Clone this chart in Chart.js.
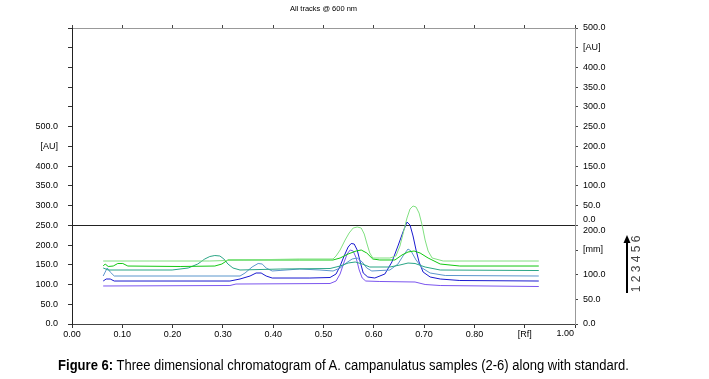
<!DOCTYPE html>
<html>
<head>
<meta charset="utf-8">
<script src="https://cdn.jsdelivr.net/npm/chart.js@4/dist/chart.umd.min.js"></script>
<style>
  html, body { margin: 0; padding: 0; background: #fff; }
  #wrap { position: relative; width: 709px; height: 379px; }
  #chart { position: absolute; left: 0; top: 0; }
  #caption {
    position: absolute; left: 0; top: 357px; width: 687px;
    text-align: center; color: #000; white-space: nowrap;
    font: 14px "Liberation Sans", Arial, sans-serif;
    transform: scaleX(0.93); transform-origin: 343px 0;
  }
</style>
</head>
<body>
<div id="wrap">
  <canvas id="chart" width="709" height="379"></canvas>
  <div id="caption"><b>Figure 6:</b> Three dimensional chromatogram of A. campanulatus samples (2-6) along with standard.</div>
</div>
<script>
// tick values / labels
const xTickValues = [0, 0.1, 0.2, 0.3, 0.4, 0.5, 0.6, 0.7, 0.8, 0.9, 1.0];
const xTickLabels = ["0.00", "0.10", "0.20", "0.30", "0.40", "0.50", "0.60", "0.70", "0.80", "[Rf]", "1.00"];
const auTickValues = [0, 50, 100, 150, 200, 250, 300, 350, 400, 450, 500, 550, 600, 650, 700, 750];
const auTickLabels = ["0.0", "50.0", "100.0", "150.0", "200.0", "250.0", "300.0", "350.0", "400.0", "[AU]", "500.0", "", "", "", "", ""];
// right side: lower part is the track axis in mm, upper part the offset AU axis
const rightTickValues = [-250, -187.5, -125, -62.5, 0, 50, 100, 150, 200, 250, 300, 350, 400, 450, 500];
const rightTickLabels = ["0.0", "50.0", "100.0", "[mm]", ["0.0", "200.0"], "50.0", "100.0", "150.0", "200.0", "250.0", "300.0", "350.0", "400.0", "[AU]", "500.0"];
const trackNumbers = "1 2 3 4 5 6";

// tracks as drawn in the 3D view (Rf, AU on left axis)
const track1Rf = [0.062, 0.314, 0.326, 0.513, 0.525, 0.533, 0.541, 0.547, 0.553, 0.559, 0.565, 0.571, 0.577, 0.584, 0.612, 0.682, 0.702, 0.732, 0.928];
const track1Au = [96.3, 97.5, 101.3, 102.6, 108.9, 126.7, 157.1, 177.4, 187.5, 185.0, 167.2, 136.8, 116.5, 108.9, 107.7, 106.4, 100.1, 97.5, 95.0];

const track2Rf = [0.062, 0.068, 0.076, 0.084, 0.314, 0.334, 0.354, 0.366, 0.376, 0.386, 0.398, 0.473, 0.513, 0.525, 0.533, 0.541, 0.549, 0.555, 0.561, 0.567, 0.573, 0.579, 0.588, 0.602, 0.622, 0.636, 0.648, 0.658, 0.666, 0.672, 0.678, 0.684, 0.690, 0.698, 0.712, 0.732, 0.771, 0.928];
const track2Au = [108.9, 114.0, 114.0, 108.9, 108.9, 114.0, 121.6, 129.2, 129.2, 121.6, 116.5, 116.5, 117.8, 126.7, 146.9, 172.3, 195.1, 204.0, 202.7, 187.5, 157.1, 129.2, 119.1, 116.5, 126.7, 157.1, 197.6, 233.1, 258.4, 250.8, 223.0, 187.5, 157.1, 131.7, 119.1, 114.0, 110.2, 108.9];

const track3Rf = [0.062, 0.066, 0.070, 0.076, 0.084, 0.334, 0.344, 0.358, 0.370, 0.378, 0.386, 0.398, 0.453, 0.493, 0.519, 0.533, 0.545, 0.557, 0.567, 0.577, 0.586, 0.596, 0.632, 0.648, 0.658, 0.668, 0.674, 0.684, 0.696, 0.712, 0.742, 0.928];
const track3Au = [121.6, 131.7, 141.9, 131.7, 121.6, 121.6, 129.2, 144.4, 153.3, 152.0, 141.9, 134.3, 139.3, 136.8, 134.3, 141.9, 154.5, 164.7, 167.2, 157.1, 141.9, 134.3, 136.8, 152.0, 172.3, 190.0, 185.0, 162.2, 141.9, 129.2, 122.9, 121.6];

const track4Rf = [0.062, 0.072, 0.199, 0.231, 0.250, 0.264, 0.274, 0.284, 0.294, 0.302, 0.310, 0.320, 0.334, 0.414, 0.513, 0.533, 0.549, 0.563, 0.577, 0.592, 0.632, 0.652, 0.668, 0.682, 0.702, 0.732, 0.928];
const track4Au = [141.9, 136.8, 136.8, 141.9, 152.0, 164.7, 171.0, 173.5, 172.3, 164.7, 152.0, 141.9, 136.8, 139.3, 140.6, 146.9, 154.5, 157.1, 152.0, 144.4, 144.4, 149.5, 154.5, 153.3, 144.4, 136.8, 135.5];

const track5Rf = [0.062, 0.066, 0.072, 0.082, 0.091, 0.101, 0.111, 0.215, 0.284, 0.298, 0.310, 0.453, 0.519, 0.533, 0.549, 0.565, 0.575, 0.586, 0.598, 0.612, 0.642, 0.656, 0.668, 0.680, 0.692, 0.708, 0.732, 0.771, 0.928];
const track5Au = [146.9, 152.0, 145.7, 146.9, 153.3, 153.3, 146.9, 145.7, 146.9, 152.0, 162.2, 162.2, 162.2, 167.2, 177.4, 185.0, 187.5, 179.9, 164.7, 162.2, 162.2, 174.8, 182.4, 185.0, 179.9, 167.2, 152.0, 146.9, 146.9];

const track6Rf = [0.062, 0.155, 0.274, 0.340, 0.453, 0.519, 0.525, 0.533, 0.543, 0.551, 0.559, 0.567, 0.575, 0.581, 0.586, 0.592, 0.598, 0.612, 0.632, 0.644, 0.652, 0.658, 0.666, 0.672, 0.678, 0.684, 0.690, 0.696, 0.702, 0.708, 0.716, 0.738, 0.928];
const track6Au = [159.6, 159.6, 159.6, 162.2, 164.7, 164.7, 172.3, 187.5, 212.8, 230.6, 243.2, 245.8, 243.2, 228.0, 205.2, 179.9, 167.2, 167.2, 167.2, 172.3, 197.6, 228.0, 268.6, 291.4, 299.0, 296.4, 281.2, 250.8, 212.8, 185.0, 167.2, 159.6, 159.6];

const TRACK_COLORS = ["#7b55ee", "#1a1ad0", "#5b96cc", "#2aa585", "#10c810", "#80e080"];
const tracks = [
  [track1Rf, track1Au], [track2Rf, track2Au], [track3Rf, track3Au],
  [track4Rf, track4Au], [track5Rf, track5Au], [track6Rf, track6Au],
];

Chart.defaults.font.family = "'Liberation Sans', Arial, sans-serif";
Chart.defaults.color = "#000";

// back tracks first so track 1 ends up in front
const datasets = tracks.map(([rf, au], i) => ({
  label: "Track " + (i + 1),
  data: rf.map((x, j) => ({ x, y: au[j] })),
  borderColor: TRACK_COLORS[i],
  borderWidth: 1,
  pointRadius: 0,
  tension: 0,
  fill: false,
})).reverse();

const setTicks = (values) => (scale) => { scale.ticks = values.map((v) => ({ value: v })); };

const extras = {
  id: "extras",
  afterDraw(chart) {
    const { ctx, chartArea } = chart;
    const xs = chart.scales.x;
    ctx.save();
    // last Rf label sits left of its tick
    ctx.font = "9px 'Liberation Sans', Arial, sans-serif";
    ctx.fillStyle = "#000";
    ctx.textAlign = "right";
    ctx.textBaseline = "top";
    ctx.fillText(xTickLabels[xTickLabels.length - 1], xs.getPixelForValue(1) - 1, chartArea.bottom + 5);

    // track direction arrow
    const ax = chartArea.right + 52;
    const yb = chartArea.bottom - 31;
    const yt = chartArea.bottom - 89;
    ctx.strokeStyle = "#000";
    ctx.lineWidth = 2;
    ctx.beginPath();
    ctx.moveTo(ax, yb);
    ctx.lineTo(ax, yt + 7);
    ctx.stroke();
    ctx.fillStyle = "#000";
    ctx.beginPath();
    ctx.moveTo(ax, yt);
    ctx.lineTo(ax - 3.5, yt + 8);
    ctx.lineTo(ax + 3.5, yt + 8);
    ctx.closePath();
    ctx.fill();

    ctx.translate(ax + 10, (yb + yt) / 2);
    ctx.rotate(-Math.PI / 2);
    ctx.font = "12px 'Liberation Sans', Arial, sans-serif";
    ctx.fillStyle = "#444";
    ctx.textAlign = "center";
    ctx.textBaseline = "middle";
    ctx.fillText(trackNumbers, 0, 0);
    ctx.restore();
  },
};

new Chart(document.getElementById("chart"), {
  type: "line",
  data: { datasets },
  plugins: [extras],
  options: {
    responsive: false,
    animation: false,
    layout: { padding: 0 },
    plugins: { legend: { display: false }, tooltip: { enabled: false }, title: { display: false } },
    scales: {
      x: {
        type: "linear", position: "bottom", min: 0, max: 1,
        afterBuildTicks: setTicks(xTickValues),
        afterFit: (s) => { s.height = 55; },
        ticks: {
          font: { size: 9 }, color: "#000", padding: 1, maxRotation: 0, autoSkip: false,
          callback: (v, i) => (i === xTickLabels.length - 1 ? "" : xTickLabels[i]),
        },
        grid: { drawOnChartArea: false, tickLength: 4, tickColor: "#333" },
        border: { color: "#444" },
      },
      x2: {
        type: "linear", position: "top", min: 0, max: 1,
        afterBuildTicks: setTicks(xTickValues),
        afterFit: (s) => { s.height = 28; },
        ticks: { display: false },
        grid: { drawOnChartArea: false, tickLength: 3, tickColor: "#444" },
        border: { color: "#999" },
        title: { display: true, text: "All tracks @ 600 nm", font: { size: 7.5 }, color: "#000", padding: { top: 4, bottom: 0 } },
      },
      y: {
        type: "linear", position: "left", min: 0, max: 750,
        afterBuildTicks: setTicks(auTickValues),
        afterFit: (s) => { s.width = 72; },
        ticks: { font: { size: 9 }, color: "#000", padding: 10, autoSkip: false, callback: (v, i) => auTickLabels[i] },
        grid: { drawOnChartArea: false, tickLength: 4, tickColor: "#333" },
        border: { color: "#222" },
      },
      y2: {
        type: "linear", position: "right", min: -250, max: 500,
        afterBuildTicks: setTicks(rightTickValues),
        afterFit: (s) => { s.width = 134; },
        ticks: { font: { size: 9 }, color: "#000", padding: 5, autoSkip: false, callback: (v, i) => rightTickLabels[i] },
        grid: {
          drawOnChartArea: true, tickLength: 3, tickColor: "#444", lineWidth: 1,
          color: (c) => (c.tick && c.tick.value === 0 ? "#222" : "rgba(0,0,0,0)"),
        },
        border: { color: "#999" },
      },
    },
  },
});
</script>
</body>
</html>
